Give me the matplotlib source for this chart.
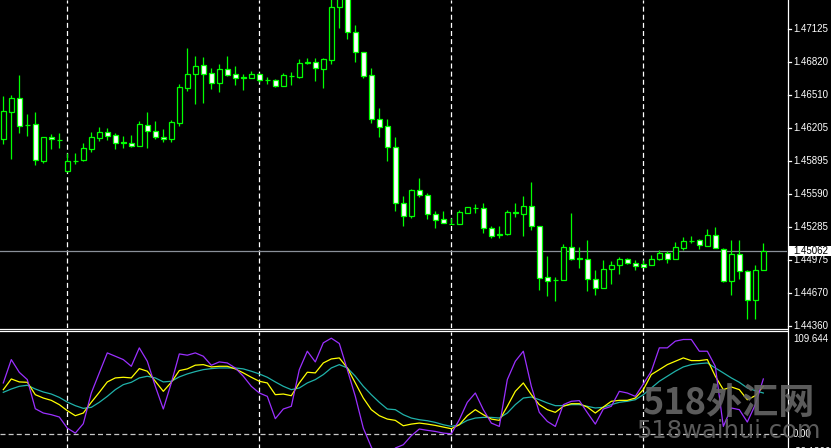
import matplotlib
matplotlib.use("Agg")
import matplotlib.pyplot as plt
from matplotlib.lines import Line2D
from matplotlib.patches import Rectangle
import numpy as np

W, H = 831, 448

# ---- candle data ----
OPEN = [1.46100, 1.46357, 1.46482, 1.46236, 1.46240, 1.45900, 1.46121, 1.46095, 1.45801, 1.45898,
        1.45910, 1.46012, 1.46115, 1.46165, 1.46137, 1.46070, 1.46062, 1.46040, 1.46230, 1.46174,
        1.46118, 1.46100, 1.46254, 1.46581, 1.46706, 1.46789, 1.46715, 1.46622, 1.46752, 1.46706,
        1.46676, 1.46674, 1.46706, 1.46654, 1.46652, 1.46599, 1.46692, 1.46680, 1.46812, 1.46817,
        1.46758, 1.46842, 1.47330, 1.47440, 1.47097, 1.46911, 1.46696, 1.46289, 1.46221, 1.46028,
        1.45503, 1.45388, 1.45624, 1.45578, 1.45401, 1.45354, 1.45312, 1.45313, 1.45416, 1.45460,
        1.45457, 1.45270, 1.45209, 1.45214, 1.45418, 1.45406, 1.45475, 1.45292, 1.44816, 1.44790,
        1.44786, 1.45093, 1.44989, 1.44981, 1.44795, 1.44717, 1.44888, 1.44925, 1.44981, 1.44944,
        1.44935, 1.44931, 1.44981, 1.45037, 1.44987, 1.45089, 1.45150, 1.45158, 1.45108, 1.45205,
        1.45080, 1.44776, 1.45028, 1.44875, 1.44599, 1.44879]
HIGH = [1.46503, 1.46513, 1.46699, 1.46336, 1.46354, 1.46120, 1.46149, 1.46158, 1.45969, 1.45972,
        1.46062, 1.46165, 1.46214, 1.46205, 1.46156, 1.46131, 1.46140, 1.46270, 1.46354, 1.46270,
        1.46196, 1.46280, 1.46615, 1.46951, 1.46876, 1.46867, 1.46764, 1.46802, 1.46876, 1.46783,
        1.46708, 1.46736, 1.46720, 1.46680, 1.46662, 1.46718, 1.46727, 1.46845, 1.46855, 1.46855,
        1.46855, 1.47430, 1.47480, 1.47460, 1.47165, 1.46915, 1.46764, 1.46391, 1.46289, 1.46121,
        1.45571, 1.45637, 1.45739, 1.45599, 1.45432, 1.45432, 1.45369, 1.45441, 1.45469, 1.45497,
        1.45506, 1.45292, 1.45292, 1.45441, 1.45506, 1.45571, 1.45702, 1.45295, 1.45012, 1.44816,
        1.45121, 1.45413, 1.45096, 1.45161, 1.44879, 1.44975, 1.44965, 1.45003, 1.44991, 1.44972,
        1.44975, 1.45019, 1.45071, 1.45056, 1.45140, 1.45192, 1.45199, 1.45168, 1.45261, 1.45282,
        1.45082, 1.45161, 1.45161, 1.44877, 1.44928, 1.45133]
LOW = [1.46056, 1.45919, 1.46161, 1.46133, 1.45863, 1.45882, 1.46012, 1.46021, 1.45795, 1.45872,
       1.45897, 1.45981, 1.46084, 1.46093, 1.46012, 1.46021, 1.46028, 1.46038, 1.46021, 1.46103,
       1.46077, 1.46077, 1.46227, 1.46553, 1.46432, 1.46441, 1.46571, 1.46543, 1.46690, 1.46609,
       1.46562, 1.46672, 1.46637, 1.46615, 1.46587, 1.46597, 1.46606, 1.46671, 1.46804, 1.46646,
       1.46581, 1.46804, 1.47140, 1.47037, 1.46823, 1.46674, 1.46254, 1.46124, 1.45900, 1.45432,
       1.45292, 1.45369, 1.45565, 1.45357, 1.45273, 1.45320, 1.45306, 1.45313, 1.45416, 1.45413,
       1.45226, 1.45180, 1.45180, 1.45212, 1.45376, 1.45199, 1.45254, 1.44695, 1.44642, 1.44593,
       1.44784, 1.44972, 1.44903, 1.44689, 1.44651, 1.44715, 1.44754, 1.44847, 1.44935, 1.44882,
       1.44910, 1.44931, 1.44979, 1.44950, 1.44985, 1.45068, 1.45136, 1.45077, 1.45106, 1.45082,
       1.44774, 1.44651, 1.44800, 1.44422, 1.44422, 1.44877]
CLOSE = [1.46361, 1.46482, 1.46227, 1.46230, 1.45904, 1.46118, 1.46100, 1.46091, 1.45895, 1.45902,
         1.46016, 1.46118, 1.46165, 1.46133, 1.46068, 1.46066, 1.46040, 1.46240, 1.46174, 1.46118,
         1.46100, 1.46258, 1.46584, 1.46706, 1.46780, 1.46711, 1.46622, 1.46752, 1.46702, 1.46668,
         1.46672, 1.46706, 1.46650, 1.46650, 1.46599, 1.46696, 1.46688, 1.46808, 1.46816, 1.46761,
         1.46845, 1.47330, 1.47440, 1.47097, 1.46911, 1.46692, 1.46286, 1.46217, 1.46025, 1.45503,
         1.45388, 1.45624, 1.45583, 1.45401, 1.45350, 1.45322, 1.45308, 1.45419, 1.45466, 1.45464,
         1.45270, 1.45201, 1.45213, 1.45419, 1.45414, 1.45478, 1.45295, 1.44810, 1.44782, 1.44786,
         1.45093, 1.44987, 1.44985, 1.44795, 1.44717, 1.44888, 1.44928, 1.44981, 1.44944, 1.44916,
         1.44912, 1.44981, 1.45040, 1.44987, 1.45093, 1.45149, 1.45154, 1.45112, 1.45205, 1.45084,
         1.44776, 1.45028, 1.44872, 1.44599, 1.44882, 1.45062]

# ---- indicator lines ----
MAIN = [54.9, 80.0, 66.3, 58.5, 27.2, 22.6, 20.8, 18.3, 6.4, 1.0,
        11.1, 44.1, 65.7, 87.2, 83.6, 80.0, 72.8, 92.6, 78.2, 51.3,
        26.9, 54.9, 86.1, 84.7, 87.2, 83.6, 73.9, 77.5, 76.4, 71.0,
        62.1, 51.3, 44.1, 40.5, 16.5, 26.9, 29.8, 69.2, 89.0, 77.5,
        98.0, 103.0, 97.3, 69.2, 40.5, 6.4, -14.0, -30.0, -32.19, -15.0,
        -11.5, -1.8, 5.4, 4.0, 2.8, 1.0, 0.3, 15.4, 34.1, 44.1,
        26.2, 11.8, 8.2, 58.5, 78.2, 89.0, 51.3, 23.3, 13.6, 8.2,
        31.6, 35.2, 35.9, 23.0, 10.7, 26.9, 29.8, 45.9, 44.1, 40.5,
        53.8, 67.5, 92.6, 92.6, 99.8, 101.6, 101.6, 89.0, 89.0, 72.8,
        8.2, 28.0, 26.2, 12.9, 31.6, 59.2]
SIGNAL = [47.7, 59.2, 56.0, 55.6, 42.3, 38.7, 36.2, 31.6, 25.1, 19.7,
          22.6, 34.1, 44.8, 56.0, 60.3, 61.0, 60.3, 70.3, 67.5, 56.7,
          45.9, 55.6, 68.2, 70.0, 74.0, 74.6, 72.1, 72.8, 72.8, 70.0,
          65.7, 61.0, 56.7, 54.9, 42.3, 43.0, 41.2, 54.9, 66.4, 65.7,
          76.4, 80.7, 81.8, 71.0, 54.9, 38.7, 26.2, 19.7, 16.1, 14.7,
          8.9, 10.7, 11.8, 10.7, 9.3, 7.5, 5.7, 10.0, 19.7, 26.2,
          20.8, 16.1, 14.7, 29.8, 45.9, 54.9, 42.3, 31.6, 26.2, 23.3,
          29.8, 32.6, 32.6, 29.0, 22.6, 29.0, 35.2, 36.2, 36.2, 38.7,
          47.7, 63.9, 69.2, 74.6, 78.2, 81.8, 78.9, 78.9, 80.0, 62.1,
          47.7, 50.6, 47.7, 36.9, 41.2, 51.3]
SLOW = [44.8, 48.4, 51.3, 52.4, 48.4, 45.2, 43.0, 39.4, 34.4, 30.5,
        27.6, 28.7, 34.1, 40.5, 47.7, 53.1, 55.6, 60.3, 62.1, 60.3,
        56.0, 56.7, 61.4, 64.6, 67.1, 69.2, 70.3, 71.0, 71.0, 71.0,
        70.0, 67.5, 64.6, 61.0, 56.0, 51.3, 47.7, 49.5, 54.9, 58.5,
        63.9, 71.0, 74.6, 71.0, 62.1, 51.3, 42.3, 34.1, 26.9, 26.2,
        20.8, 17.2, 15.4, 14.3, 12.5, 10.0, 8.2, 10.0, 14.7, 17.2,
        17.9, 17.9, 17.2, 22.6, 31.6, 38.7, 39.8, 36.9, 33.4, 30.5,
        30.5, 31.6, 31.6, 29.8, 28.0, 28.7, 31.6, 34.1, 35.2, 36.9,
        42.3, 49.5, 56.7, 62.1, 67.5, 72.1, 74.6, 75.7, 76.4, 71.0,
        65.7, 60.3, 55.6, 49.5, 46.6, 44.1]

PRICE_TICKS = [1.47125, 1.46820, 1.46510, 1.46205, 1.45895, 1.45590, 1.45285, 1.44975, 1.44670, 1.44360]
LAST_PRICE = 1.45062
IND_MAX, IND_MIN = 109.644, -32.1866
SEPARATORS = [8, 32, 56, 80]          # period-separator bars

GREEN = "#00ff00"
PRICE_TOP, PRICE_BOT = 1.47398, 1.44341
XMIN, XMAX = -0.4125, 97.96

fig = plt.figure(figsize=(W / 100, H / 100), dpi=100, facecolor="black")
ax = fig.add_axes([0, 1 - 328 / H, 787 / W, 328 / H], facecolor="black")
ai = fig.add_axes([0, -16 / H, 787 / W, 132 / H], facecolor="black")
for a in (ax, ai):
    a.set_xlim(XMIN, XMAX)
    a.axis("off")
ax.set_ylim(PRICE_BOT, PRICE_TOP)
ai.set_ylim(IND_MIN, IND_MAX)

x = np.arange(len(OPEN))
o, h, l, c = map(np.array, (OPEN, HIGH, LOW, CLOSE))

# candles: white body = down bar, black body = up bar
ax.vlines(x, l, h, color=GREEN, lw=0.9, zorder=2)
lo = np.minimum(o, c)
hi = np.maximum(o, c)
face = np.where(c < o, "white", "black")
ax.bar(x, np.maximum(hi - lo, 1e-6), bottom=lo, width=0.55, color=face,
       edgecolor=GREEN, linewidth=0.9, zorder=3)

# grid / separators
for s in SEPARATORS:
    for a in (ax, ai):
        a.axvline(s, color="white", lw=0.9, ls=(0, (4, 2.5)), zorder=1)
ax.axhline(LAST_PRICE, color="#8a9099", lw=0.9, zorder=1)
ai.axhline(0, color="#c8c8c8", lw=0.9, ls=(0, (4, 2.5)), zorder=1)

# indicator
ai.plot(x, SLOW, color="#20b2aa", lw=0.9, zorder=3)
ai.plot(x, SIGNAL, color="#ffff00", lw=0.9, zorder=4)
ai.plot(x, MAIN, color="#9b30ff", lw=0.9, zorder=5)


def fline(x0, y0, x1, y1, **kw):
    fig.add_artist(Line2D([x0 / W, x1 / W], [1 - y0 / H, 1 - y1 / H],
                          transform=fig.transFigure, **kw))


fline(0, 329, 787, 329, color="white", lw=0.9)
fline(0, 331.5, 787, 331.5, color="white", lw=0.9)
fline(787.5, 0, 787.5, H, color="white", lw=0.9)

# right price scale
fs = 7
fam = "Liberation Sans"
for p in PRICE_TICKS:
    yp = (PRICE_TOP - p) / (PRICE_TOP - PRICE_BOT) * 328
    fline(787.5, yp, 791, yp, color="white", lw=0.9)
    fig.text(793 / W, 1 - yp / H, f"{p:.5f}", color="white", fontsize=fs,
             family=fam, va="center", ha="left")

yl = (PRICE_TOP - LAST_PRICE) / (PRICE_TOP - PRICE_BOT) * 328
fig.add_artist(Rectangle((789 / W, 1 - (yl + 5) / H), 42 / W, 10 / H,
                         transform=fig.transFigure, facecolor="white", edgecolor="none"))
fig.text(793 / W, 1 - yl / H, f"{LAST_PRICE:.5f}", color="black", fontsize=fs,
         family=fam, va="center", ha="left")

# indicator scale
for val, yp in ((IND_MAX, 338.5), (0, 434), (IND_MIN, 452)):
    lab = f"{val:.3f}" if val == IND_MAX else ("0.00" if val == 0 else f"{val:.4f}")
    fig.text(793 / W, 1 - yp / H, lab, color="white", fontsize=fs,
             family=fam, va="center", ha="left")

# watermark
fig.text(728 / W, 1 - 403 / H, "518外汇网", color="#666666", fontsize=26,
         family=["Noto Sans CJK SC", "DejaVu Sans"], weight="bold",
         ha="center", va="center", alpha=0.9, zorder=10)
fig.text(728 / W, 1 - 431 / H, "518waihui.com", color="#666666", fontsize=17.5,
         family="DejaVu Sans", ha="center", va="center", alpha=0.9, zorder=10)

fig.savefig("out.png", dpi=100, facecolor="black")
